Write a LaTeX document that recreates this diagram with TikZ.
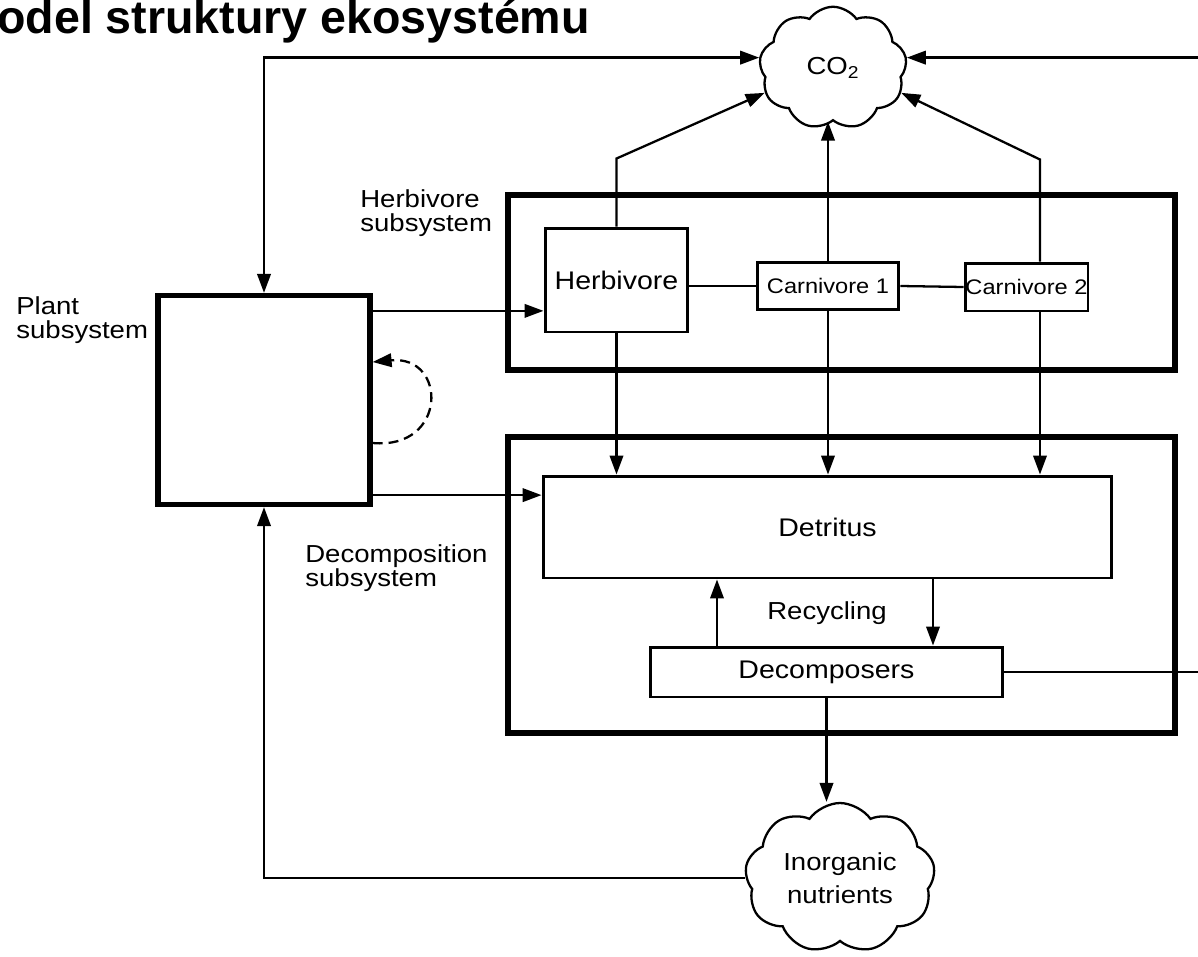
\documentclass[tikz,border=0pt]{standalone}
\usepackage{fontspec}
\setmainfont{Liberation Sans}
\newfontfamily\diagfont{Liberation Sans}[FakeStretch=1.12]
\usetikzlibrary{arrows.meta,shapes.symbols}

\tikzset{
  conn/.style={line width=1.3pt},
  sysbox/.style={draw, line width=3pt, inner sep=0pt},
  blk/.style={draw, line width=1.7pt, inner sep=0pt, font=\diagfont\fontsize{14.5}{14}\selectfont},
  smalltxt/.style={font=\diagfont\fontsize{12}{12}\selectfont},
  lbl/.style={align=left, anchor=west, inner sep=0pt, font=\diagfont\fontsize{14}{13.7}\selectfont},
  puff/.style={draw, cloud, cloud puffs=9, cloud puff arc=110, cloud ignores aspect, line width=1.3pt, inner sep=0pt, font=\diagfont\fontsize{14}{14}\selectfont}
}

\begin{document}
\begin{tikzpicture}[x=0.02cm, y=-0.02cm, >={Triangle[length=3.8mm,width=2.7mm]}]
\useasboundingbox (0,0) rectangle (1198,957);

\node[anchor=base west, inner sep=0pt, font=\bfseries\fontsize{26.5}{30}\selectfont] (title) at (-3,33) {odel struktury ekosystému};

% subsystems
\node[sysbox, minimum width=13.34cm, minimum height=3.5cm] (herbsys) at (841.5,282.5) {};
\node[sysbox, minimum width=13.34cm, minimum height=5.92cm] (decsys) at (841.5,585) {};
\node[sysbox, minimum width=4.24cm, minimum height=4.18cm] (plant) at (264,400) {};

\node[lbl] (plantlbl) at (16,320) {Plant\\subsystem};
\node[lbl] (herblbl) at (360,213) {Herbivore\\subsystem};
\node[lbl] (declbl) at (305,568) {Decomposition\\subsystem};

% compartments
\node[blk, minimum width=2.86cm, minimum height=2.08cm] (herb) at (616.5,280) {Herbivore};
\node[blk, smalltxt, minimum width=2.84cm, minimum height=0.94cm] (carn1) at (828,286) {Carnivore 1};
\node[blk, smalltxt, minimum width=2.46cm, minimum height=0.96cm] (carn2) at (1026.5,287) {Carnivore 2};
\node[blk, minimum width=11.38cm, minimum height=2.04cm] (detritus) at (827.5,527) {Detritus};
\node[blk, minimum width=7.06cm, minimum height=1cm] (decomp) at (826.5,672) {Decomposers};
\node[lbl, anchor=center] (recyc) at (827,613) {Recycling};

% pools
\node[puff, minimum width=2.95cm, minimum height=2.45cm] (co2) at (833,68) {CO\textsubscript{2}};
\node[puff, minimum width=3.8cm, minimum height=3cm, align=center] (nutr) at (840,878) {Inorganic\\[5pt]nutrients};

\coordinate (edge) at (1198,0);
\coordinate (c2x) at (1040,0);
\coordinate (lx) at (717,0);
\coordinate (rx) at (933,0);

% flows to and from CO2
\draw[conn, <->] (plant.north) |- (co2.172);
\draw[conn, <-] (co2.8) -- (co2.8 -| edge);
\draw[conn, ->] (herb.north) -- ++(0,-68) -- (co2.200);
\draw[conn, ->] (carn1.north) -- (carn1.north |- co2.south);
\draw[conn, ->] (c2x |- carn2.north) -- ++(0,-102) -- (co2.340);

% food chain
\draw[conn] (herb.east |- carn1.west) -- (carn1.west);
\draw[conn] (carn1.east) -- (carn2.west);
\coordinate (p2h) at ([yshift=-0.36cm]plant.north east);
\draw[conn, ->] (p2h) -- (p2h -| herb.west);
\coordinate (loopout) at ([yshift=-0.86cm]plant.east);
\coordinate (loopin) at ([yshift=0.76cm]plant.east);
\draw[conn, dash pattern=on 0.2cm off 0.12cm, ->] (loopout) .. controls +(75,7) and +(75,-7) .. (loopin);

% into detritus
\draw[conn, ->] (herb.south) -- (herb.south |- detritus.north);
\draw[conn, ->] (carn1.south) -- (carn1.south |- detritus.north);
\draw[conn, ->] (c2x |- carn2.south) -- (c2x |- detritus.north);
\coordinate (p2d) at ([yshift=0.24cm]plant.south east);
\draw[conn, ->] (p2d) -- (p2d -| detritus.west);

% recycling
\draw[conn, ->] (lx |- decomp.north) -- (lx |- detritus.south);
\draw[conn, ->] (rx |- detritus.south) -- (rx |- decomp.north);
\draw[conn] (decomp.east) -- (decomp.east -| edge);
\draw[conn, ->] (decomp.south) -- (decomp.south |- nutr.north);
\draw[conn, ->] (nutr.west) -| (plant.south);
\end{tikzpicture}
\end{document}
